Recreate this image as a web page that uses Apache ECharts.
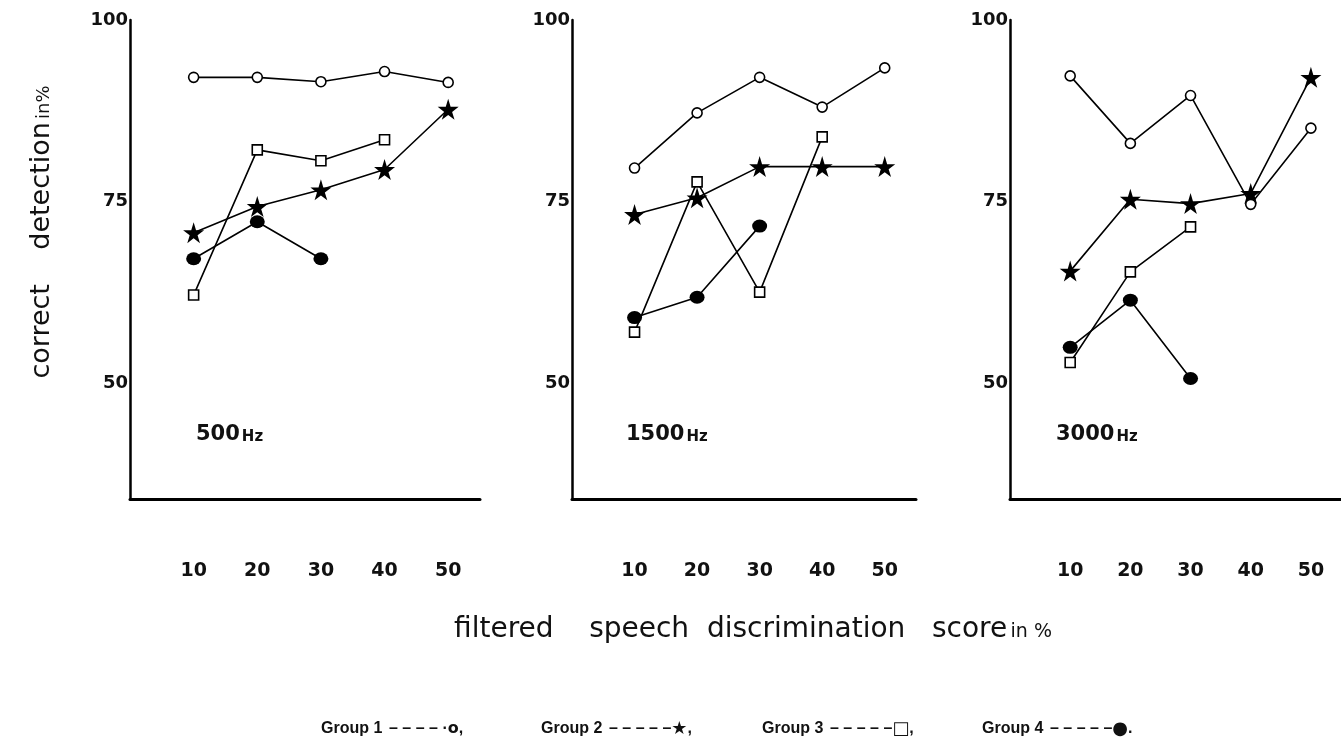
<!DOCTYPE html>
<html>
<head>
<meta charset="utf-8">
<script src="https://cdn.jsdelivr.net/npm/echarts@6/dist/echarts.min.js"></script>
<style>
    html, body { margin: 0; padding: 0; background: #fff; }
    #chart { width: 1341px; height: 746px; }
</style>
</head>
<body>
<div id="chart"></div>
<script>
// x positions (filtered speech discrimination score, %)
var scores = [10, 20, 30, 40, 50]
var yTicks = [50, 75, 100]
var panels = ['500', '1500', '3000']
var groupNames = ['Group 1', 'Group 2', 'Group 3', 'Group 4']

// correct detection in %
var g1_500 = [92.1, 92.1, 91.5, 92.9, 91.4]
var g2_500 = [70.7, 74.3, 76.6, 79.4, 87.7]
var g3_500 = [62.1, 82.1, 80.6, 83.5]
var g4_500 = [67.1, 72.2, 67.1]

var g1_1500 = [79.6, 87.2, 92.1, 88.0, 93.4]
var g2_1500 = [73.2, 75.5, 79.8, 79.8, 79.8]
var g3_1500 = [57.0, 77.7, 62.5, 83.9]
var g4_1500 = [59.0, 61.8, 71.6]

var g1_3000 = [92.3, 83.0, 89.6, 74.6, 85.1]
var g2_3000 = [65.4, 75.3, 74.7, 76.1, 92.1]
var g3_3000 = [52.8, 65.3, 71.5]
var g4_3000 = [54.9, 61.4, 50.6]

var groups = [
    [g1_500, g2_500, g3_500, g4_500],
    [g1_1500, g2_1500, g3_1500, g4_1500],
    [g1_3000, g2_3000, g3_3000, g4_3000]
]

const FONT = 'DejaVu Sans'
const STAR = 'path://M50,0 L61,35 L98,35 L68,57 L79,91 L50,70 L21,91 L32,57 L2,35 L39,35 Z'

let chart = echarts.init(document.getElementById('chart'))

let grids = [
    { left: 130, top: 20, width: 350, height: 479 },
    { left: 572, top: 20, width: 344, height: 479 },
    { left: 1010, top: 20, width: 341, height: 479 }
]

let xAxes = grids.map((g, i) => ({
    type: 'value',
    gridIndex: i,
    min: 0,
    max: 55,
    interval: 10,
    axisLine: { show: true, lineStyle: { color: '#000', width: 3 } },
    axisTick: { show: false },
    splitLine: { show: false },
    axisLabel: {
        customValues: scores,
        margin: 63,
        color: '#111',
        fontFamily: FONT,
        fontSize: 19,
        fontWeight: 'bold'
    }
}))

let yAxes = grids.map((g, i) => ({
    type: 'value',
    gridIndex: i,
    min: 34,
    max: 100,
    axisLine: { show: true, lineStyle: { color: '#000', width: 2.5 } },
    axisTick: { show: false },
    splitLine: { show: false },
    axisLabel: {
        customValues: yTicks,
        margin: 2,
        color: '#111',
        fontFamily: FONT,
        fontSize: 18,
        fontWeight: 'bold'
    }
}))

function makeSeries(values, panel, group) {
    let s = {
        type: 'line',
        name: groupNames[group],
        xAxisIndex: panel,
        yAxisIndex: panel,
        data: values.map((v, k) => [scores[k], v]),
        lineStyle: { color: '#000', width: 1.6 },
        itemStyle: { color: '#fff', borderColor: '#000', borderWidth: 1.6 },
        emphasis: { disabled: true },
        animation: false
    }
    if (group === 0) {
        s.symbol = 'circle'
        s.symbolSize = 10
        s.z = 4
    } else if (group === 1) {
        s.symbol = STAR
        s.symbolSize = 21
        s.itemStyle = { color: '#000', borderWidth: 0 }
        s.z = 3
    } else if (group === 2) {
        s.symbol = 'rect'
        s.symbolSize = 10
        s.z = 5
    } else {
        s.symbol = 'circle'
        s.symbolSize = [15, 13]
        s.itemStyle = { color: '#000', borderWidth: 0 }
        s.z = 2
    }
    return s
}

let series = []
groups.forEach((gs, p) => {
    gs.forEach((vals, g) => {
        series.push(makeSeries(vals, p, g))
    })
})

let hzX = [196, 626, 1056]

let legendItems = [
    { x: 321, dash: '– – – – ·', mark: 'o' },
    { x: 541, dash: '– – – – –', mark: '★' },
    { x: 762, dash: '– – – – –', mark: '□' },
    { x: 982, dash: '– – – – –', mark: '●' }
]

let legendText = {
    fontFamily: 'Liberation Sans', fontSize: 16, fontWeight: 'bold', fill: '#111'
}

const option = {
    backgroundColor: '#fff',
    animation: false,
    grid: grids,
    xAxis: xAxes,
    yAxis: yAxes,
    series: series,
    graphic: hzX.map((x, i) => ({
        type: 'text',
        x: x,
        y: 435,
        style: {
            text: '{a|' + panels[i] + '}{b|Hz}',
            verticalAlign: 'middle',
            rich: {
                a: { fontFamily: FONT, fontSize: 21, fontWeight: 'bold', fill: '#111' },
                b: { fontFamily: FONT, fontSize: 15, fontWeight: 'bold', fill: '#111', padding: [4, 0, 0, 2] }
            }
        }
    })).concat(legendItems.map((it, i) => ({
        type: 'text',
        x: it.x,
        y: 729,
        style: {
            text: '{t|' + groupNames[i] + '}  {d|' + it.dash + '}{m|' + it.mark + '}{t|' + (i === 3 ? '.' : ',') + '}',
            verticalAlign: 'middle',
            rich: {
                t: legendText,
                d: legendText,
                m: { fontFamily: FONT, fontSize: i === 0 ? 16 : 18, fontWeight: 'bold', fill: '#111' }
            }
        }
    }))).concat([{
        type: 'text',
        x: 42,
        y: 232,
        rotation: Math.PI / 2,
        style: {
            text: '{a|correct    detection} {b|in%}',
            align: 'center',
            verticalAlign: 'middle',
            rich: {
                a: { fontFamily: FONT, fontSize: 27, fill: '#111' },
                b: { fontFamily: FONT, fontSize: 18, fill: '#111', padding: [5, 0, 0, 0] }
            }
        }
    }, {
        type: 'text',
        x: 753,
        y: 630,
        style: {
            text: '{a|filtered    speech  discrimination   score} {b|in %}',
            align: 'center',
            verticalAlign: 'middle',
            rich: {
                a: { fontFamily: FONT, fontSize: 28, fill: '#111' },
                b: { fontFamily: FONT, fontSize: 19, fill: '#111', padding: [5, 0, 0, 0] }
            }
        }
    }])
}

chart.setOption(option)
</script>
</body>
</html>
